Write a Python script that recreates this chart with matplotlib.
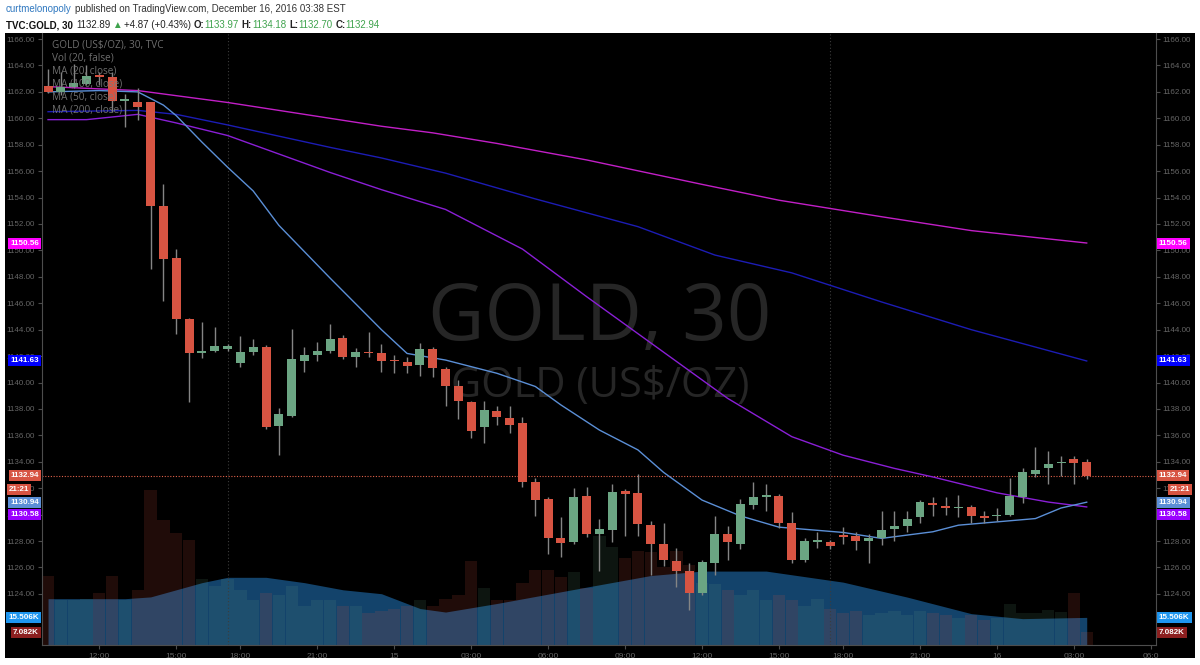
import matplotlib.pyplot as plt
import numpy as np

# 30 minute bars, TVC:GOLD, 14 Dec 10:00 .. 16 Dec 03:30 EST
opens = [1162.45, 1162.0, 1162.4, 1162.6, 1163.3, 1163.1, 1161.3, 1161.25, 1161.2, 1153.4,
         1149.4, 1144.8, 1142.2, 1142.4, 1142.5, 1141.5, 1142.3, 1142.7, 1136.7, 1137.5,
         1141.6, 1142.1, 1142.4, 1143.4, 1141.9, 1142.3, 1142.2, 1141.65, 1141.55, 1141.3,
         1142.5, 1141.0, 1139.7, 1138.5, 1136.6, 1137.85, 1137.3, 1136.9, 1132.5, 1131.2,
         1128.2, 1127.9, 1131.4, 1128.5, 1128.8, 1131.8, 1131.6, 1129.2, 1127.8, 1126.5,
         1125.7, 1124.1, 1126.3, 1128.5, 1127.8, 1130.7, 1131.3, 1131.4, 1129.4, 1126.6,
         1127.95, 1127.9, 1128.45, 1128.4, 1128.0, 1128.2, 1128.9, 1129.1, 1129.8, 1130.9,
         1130.65, 1130.5, 1130.6, 1129.9, 1129.9, 1130.0, 1131.3, 1133.1, 1133.5, 1133.9,
         1134.2, 1133.97]
highs = [1163.7, 1163.5, 1164.1, 1164.0, 1163.5, 1163.5, 1161.85, 1162.3, 1161.2, 1155.0,
         1150.1, 1144.9, 1144.6, 1144.2, 1142.9, 1143.5, 1143.3, 1142.85, 1138.1, 1144.05,
         1142.7, 1143.1, 1144.4, 1143.6, 1142.6, 1143.8, 1142.9, 1142.1, 1141.9, 1143.0,
         1142.7, 1141.2, 1140.2, 1138.6, 1138.6, 1138.2, 1138.2, 1137.4, 1132.8, 1131.3,
         1129.8, 1132.0, 1132.1, 1129.7, 1132.3, 1131.95, 1133.1, 1129.5, 1129.4, 1127.5,
         1126.3, 1126.6, 1129.9, 1129.1, 1131.2, 1132.5, 1132.3, 1131.55, 1130.2, 1128.2,
         1128.65, 1128.1, 1129.05, 1128.7, 1128.5, 1130.3, 1130.3, 1130.3, 1131.1, 1131.3,
         1131.3, 1131.5, 1130.75, 1130.3, 1130.5, 1132.8, 1133.5, 1135.1, 1134.8, 1134.45,
         1134.45, 1134.18]
lows = [1161.9, 1161.8, 1162.3, 1162.5, 1162.5, 1160.5, 1159.35, 1159.9, 1148.6, 1146.2,
        1143.7, 1138.5, 1141.85, 1142.3, 1142.4, 1141.2, 1142.1, 1136.5, 1134.5, 1137.4,
        1140.8, 1141.6, 1142.2, 1141.8, 1141.2, 1141.9, 1140.8, 1140.7, 1140.7, 1140.5,
        1140.4, 1138.2, 1137.2, 1135.8, 1135.4, 1136.8, 1136.2, 1132.1, 1129.9, 1127.0,
        1126.8, 1127.8, 1128.3, 1125.7, 1127.9, 1128.4, 1128.4, 1125.4, 1126.1, 1124.5,
        1122.8, 1123.9, 1125.4, 1126.6, 1127.4, 1130.4, 1130.3, 1129.0, 1126.3, 1126.4,
        1127.5, 1127.4, 1127.8, 1127.3, 1126.3, 1127.7, 1128.0, 1128.7, 1129.4, 1129.9,
        1130.0, 1129.8, 1129.4, 1129.4, 1129.5, 1129.9, 1130.9, 1132.85, 1132.3, 1132.95,
        1132.3, 1132.70]
closes = [1162.0, 1162.4, 1162.7, 1163.2, 1163.1, 1161.3, 1161.45, 1160.85, 1153.4, 1149.35,
          1144.8, 1142.2, 1142.4, 1142.8, 1142.75, 1142.3, 1142.7, 1136.6, 1137.6, 1141.8,
          1142.1, 1142.4, 1143.3, 1141.9, 1142.3, 1142.2, 1141.6, 1141.6, 1141.25, 1142.5,
          1141.1, 1139.7, 1138.6, 1136.3, 1137.9, 1137.4, 1136.8, 1132.5, 1131.1, 1128.2,
          1127.85, 1131.3, 1128.5, 1128.9, 1131.7, 1131.55, 1129.3, 1127.8, 1126.6, 1125.7,
          1124.1, 1126.4, 1128.5, 1127.9, 1130.8, 1131.3, 1131.5, 1129.4, 1126.6, 1128.0,
          1128.0, 1127.6, 1128.3, 1128.0, 1128.2, 1128.8, 1129.1, 1129.7, 1130.95, 1130.75,
          1130.5, 1130.6, 1129.9, 1129.75, 1130.0, 1131.4, 1133.2, 1133.4, 1133.8, 1133.95,
          1133.9, 1132.94]
# volume in thousands
volumes = [39, 25, 25, 26, 29, 39, 25, 31, 87, 70,
           63, 59, 37, 33, 37, 31, 25, 29, 28, 33,
           22, 25, 25, 22, 22, 18, 19, 20, 22, 25,
           22, 26, 28, 47, 32, 25, 25, 35, 42, 42,
           38, 41, 32, 61, 55, 49, 53, 52, 44, 53,
           45, 35, 34, 31, 28, 31, 25, 28, 25, 22,
           26, 20, 18, 19, 17, 18, 19, 17, 19, 18,
           17, 15, 17, 14, 15, 23, 18, 18, 19.5, 18.5,
           29, 7.082]

# volume MA(20), read at some bars
volma_idx = [0, 6, 8, 10, 12, 14, 17, 20, 23, 26, 29, 31, 35, 42, 47, 51, 56, 62, 67, 72, 76, 81]
volma_val = [26, 26, 27, 31, 35, 38, 38, 35, 31, 28.8, 20.5, 18.5, 23.3, 32.5, 39, 41.5,
             41.5, 35.3, 26.9, 17.6, 14.8, 15.506]

# moving averages of close, read at some bars
ma20_idx = [0, 4, 7, 9, 10, 12, 14, 16, 18, 22, 26, 28, 31, 35, 38, 40, 43, 46, 48, 51,
            54, 57, 62, 65, 69, 71, 74, 77, 79, 81]
ma20_val = [1162.0, 1162.1, 1162.0, 1161.0, 1160.2, 1158.2, 1156.3, 1154.5, 1151.9, 1147.9,
            1144.0, 1142.2, 1141.7, 1140.7, 1139.7, 1138.3, 1136.4, 1134.9, 1133.2, 1131.1,
            1129.9, 1129.05, 1128.65, 1128.2, 1128.7, 1129.2, 1129.45, 1129.7, 1130.5, 1130.94]
ma50_idx = [0, 3, 7, 10, 14, 22, 26, 31, 37, 42, 47, 53, 58, 62, 66, 69, 74, 78, 81]
ma50_val = [1159.9, 1159.9, 1160.3, 1159.65, 1158.7, 1155.9, 1154.6, 1153.1, 1150.1, 1146.5,
            1143.0, 1138.8, 1135.9, 1134.5, 1133.5, 1132.85, 1131.65, 1130.95, 1130.58]
ma100_idx = [0, 7, 10, 14, 22, 26, 31, 38, 46, 52, 58, 65, 72, 81]
ma100_val = [1160.5, 1160.6, 1160.3, 1159.5, 1157.8, 1157.0, 1155.85, 1153.9, 1151.8, 1149.65,
             1148.3, 1146.1, 1144.0, 1141.63]
ma200_idx = [0, 7, 14, 22, 26, 30, 35, 42, 51, 57, 65, 72, 81]
ma200_val = [1162.4, 1162.1, 1161.2, 1160.0, 1159.4, 1158.9, 1158.1, 1156.85, 1155.0, 1153.8,
             1152.55, 1151.5, 1150.56]

tick_pos = [4, 10, 15, 21, 27, 33, 39, 45, 51, 57, 62, 68, 74, 80, 86]
tick_lab = ["12:00", "15:00", "18:00", "21:00", "15", "03:00", "06:00", "09:00",
            "12:00", "15:00", "18:00", "21:00", "16", "03:00", "06:0"]
session_breaks = [14, 61]

UP = '#6ba583'
DOWN = '#d75442'
WICK = '#858585'
SANS = ['Liberation Sans', 'DejaVu Sans']

fig = plt.figure(figsize=(12, 6.65), dpi=100, facecolor='white')

panel = fig.add_axes([0.004, 0.0105, 0.992, 0.9395])
panel.set_facecolor('black')
panel.set_xticks([])
panel.set_yticks([])
for s in panel.spines.values():
    s.set_visible(False)
panel.set_zorder(0)

pos = [0.035, 0.0301, 0.9283, 0.9203]
vax = fig.add_axes(pos)
vax.set_zorder(1)
vax.set_facecolor('black')
ax = fig.add_axes(pos, sharex=vax)
ax.set_zorder(2)
ax.patch.set_visible(False)

idx = np.arange(len(closes))
o = np.array(opens)
c = np.array(closes)
up = c >= o
cols = np.where(up, UP, DOWN)

# volume pane
vax.fill_between(volma_idx, 0, volma_val, color='#13436b', lw=0, zorder=1)
vax.bar(idx[up], np.array(volumes)[up], width=0.96, color=UP, alpha=0.13, lw=0, zorder=2)
vax.bar(idx[~up], np.array(volumes)[~up], width=0.96, color=DOWN, alpha=0.15, lw=0, zorder=2)
vax.set_ylim(0, 343.7)
vax.set_yticks([])
vax.tick_params(axis='x', length=0, labelbottom=False)
for s in vax.spines.values():
    s.set_visible(False)

# session breaks
for b in session_breaks:
    ax.axvline(b, color='#3c3c3c', lw=0.8, ls=(0, (1, 2)), zorder=1)

# moving averages
ax.plot(ma200_idx, ma200_val, color='#c21fc7', lw=1.0, zorder=2)
ax.plot(ma100_idx, ma100_val, color='#1c1cb4', lw=1.0, zorder=2)
ax.plot(ma50_idx, ma50_val, color='#8a1fd6', lw=1.0, zorder=2)
ax.plot(ma20_idx, ma20_val, color='#5b8fd6', lw=1.0, zorder=2)

# candles
ax.vlines(idx, lows, highs, color=WICK, lw=1.0, zorder=3)
body = np.maximum(np.abs(c - o), 0.09)
ax.bar(idx, body, bottom=np.minimum(o, c), width=0.7, color=cols, lw=0, zorder=4)

last = closes[-1]
ax.axhline(last, color='#e0624a', lw=0.8, ls=(0, (1, 1.5)), zorder=1)

ax.set_xlim(-0.47, 86.4)
ax.set_ylim(1120.13, 1166.46)
ax.set_yticks(np.arange(1124, 1167, 2))
ax.set_yticklabels([f"{v:.2f}" for v in np.arange(1124, 1167, 2)])
ax.set_xticks(tick_pos)
ax.set_xticklabels(tick_lab)
ax.tick_params(axis='y', left=True, right=True, labelleft=True, labelright=True,
               colors='#4d4d4d', labelcolor='#666666', labelsize=5.8, length=3, pad=2,
               labelfontfamily=SANS)
ax.tick_params(axis='x', colors='#4d4d4d', labelcolor='#666666', labelsize=6, length=3, pad=3,
               labelfontfamily=SANS)
for side in ['left', 'right', 'bottom']:
    ax.spines[side].set_color('#4d4d4d')
ax.spines['top'].set_visible(False)

# watermark
ax.text(0.501, 0.498, "GOLD, 30", transform=ax.transAxes, ha='center', va='baseline',
        fontsize=56, color='#262626', family='Open Sans', zorder=0)
ax.text(0.501, 0.405, "GOLD (US$/OZ)", transform=ax.transAxes, ha='center', va='baseline',
        fontsize=30, color='#262626', family='Open Sans', zorder=0)

# legend
legend_lines = ["GOLD (US$/OZ), 30, TVC", "Vol (20, false)", "MA (20, close)",
                "MA (100, close)", "MA (50, close)", "MA (200, close)"]
for k, t in enumerate(legend_lines):
    ax.text(0.009, 0.980 - k * 0.0212, t, transform=ax.transAxes, ha='left', va='center',
            fontsize=7.2, color='#7a7a7a', family='Open Sans', zorder=5, alpha=0.9)

# price scale markers (value, label, colour)
ytr = ax.get_yaxis_transform()
vtr = vax.get_yaxis_transform()
markers = [
    (ax, 1150.56, "1150.56", '#ff00ff'),
    (ax, 1141.63, "1141.63", '#0000ff'),
    (ax, 1132.94, "1132.94", '#d75442'),
    (ax, 1130.94, "1130.94", '#5b8fd6'),
    (ax, 1130.0, "1130.58", '#9a00ff'),
    (vax, 15.506, "15.506K", '#1e96f0'),
    (vax, 7.082, "7.082K", '#8c1f1f'),
]
px = 1 / 1114
box = dict(boxstyle='square,pad=0.25', lw=0)
for a, y, t, col in markers:
    tr = ytr if a is ax else vtr
    a.text(1.0 + 3 * px, y, t, transform=tr, ha='left', va='center', fontsize=5.8,
           fontweight='bold', color='white', family=SANS, bbox=dict(box, fc=col),
           zorder=10, clip_on=False)
    a.text(-3 * px, y, t, transform=tr, ha='right', va='center', fontsize=5.8,
           fontweight='bold', color='white', family=SANS, bbox=dict(box, fc=col),
           zorder=10, clip_on=False)
ax.text(1.0 + 34 * px, 1131.87, "21:21", transform=ytr, ha='right', va='center', fontsize=5.8,
        fontweight='bold', color='white', family=SANS, bbox=dict(box, fc='#d75442'),
        zorder=11, clip_on=False)
ax.text(-33 * px, 1131.87, "21:21", transform=ytr, ha='left', va='center', fontsize=5.8,
        fontweight='bold', color='white', family=SANS, bbox=dict(box, fc='#d75442'),
        zorder=11, clip_on=False)

# header
renderer = fig.canvas.get_renderer()


def header_line(x, y, runs, size):
    for txt, col, weight, gap in runs:
        t = fig.text(x, y, txt, color=col, fontsize=size, fontweight=weight,
                     family=SANS, ha='left', va='center')
        x += t.get_window_extent(renderer).width / fig.bbox.width + gap / fig.bbox.width


header_line(0.005, 1 - 9 / 665, [
    ("curtmelonopoly", '#2f78c0', 'normal', 3),
    ("published on TradingView.com, December 16, 2016 03:38 EST", '#333333', 'normal', 0),
], 7)
green = '#3fa34d'
header_line(0.005, 1 - 25 / 665, [
    ("TVC:GOLD, 30", '#111111', 'bold', 3),
    ("1132.89", '#222222', 'normal', 2),
    ("\u25b2", green, 'normal', 2),
    ("+4.87 (+0.43%)", '#222222', 'normal', 3),
    ("O:", '#222222', 'bold', 0), ("1133.97", green, 'normal', 3),
    ("H:", '#222222', 'bold', 0), ("1134.18", green, 'normal', 3),
    ("L:", '#222222', 'bold', 0), ("1132.70", green, 'normal', 3),
    ("C:", '#222222', 'bold', 0), ("1132.94", green, 'normal', 0),
], 7)

fig.savefig('out.png', dpi=100, facecolor='white')
